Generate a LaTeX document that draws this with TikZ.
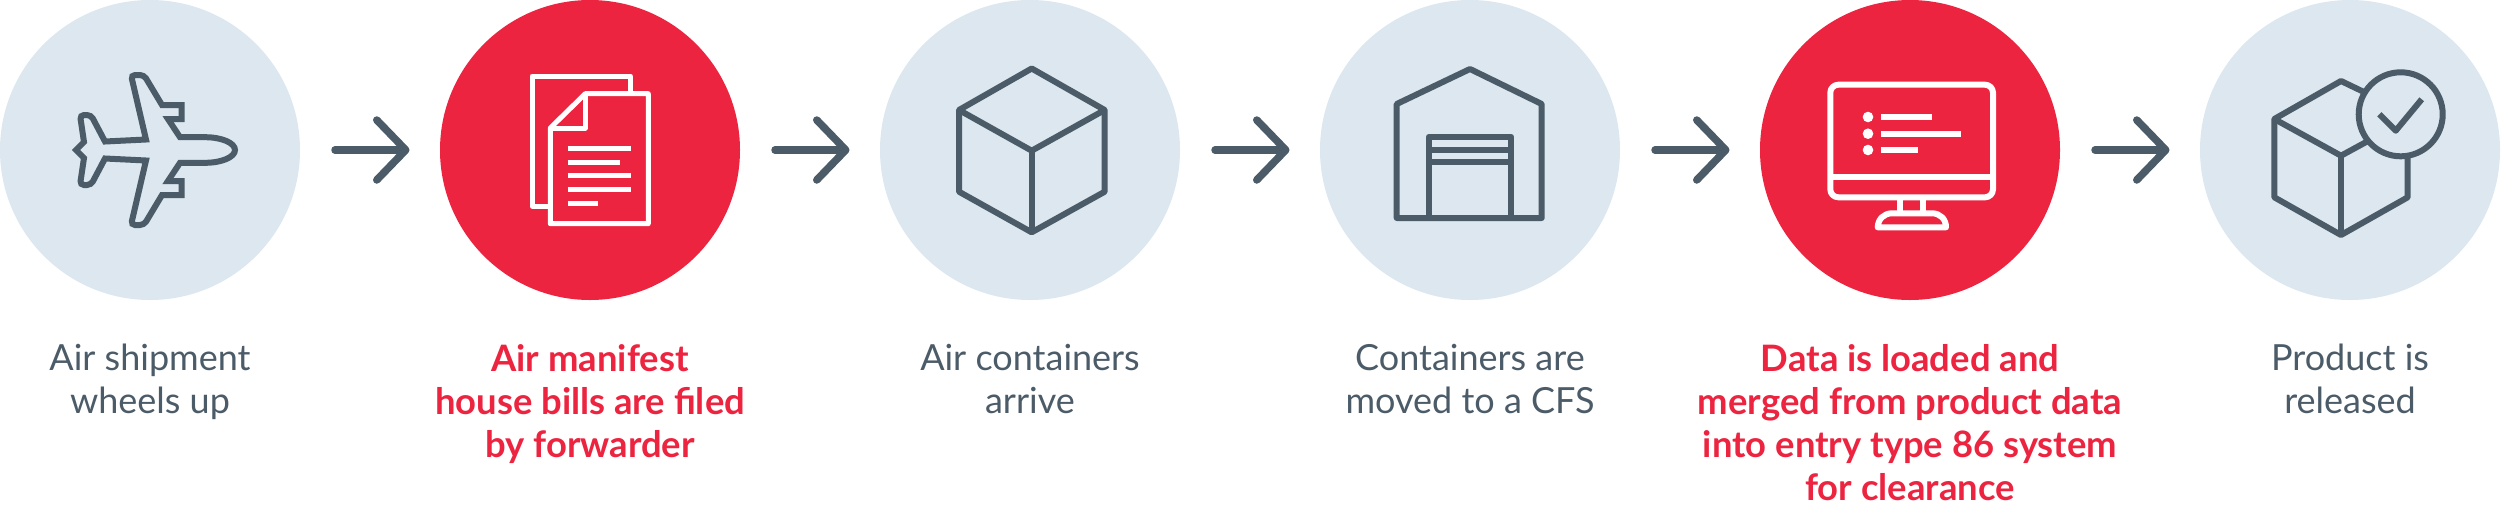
\documentclass[tikz,border=0pt]{standalone}
\usepackage{fontspec}
\setmainfont{Lato}
\usetikzlibrary{positioning,arrows.meta}
\definecolor{slatecol}{HTML}{4B5B68}
\definecolor{palecol}{HTML}{DCE7EF}
\definecolor{redcol}{HTML}{EC2440}
\tikzset{
    stepcircle/.style={circle, minimum size=300pt, inner sep=0pt, outer sep=0pt, fill=palecol},
    redcircle/.style={stepcircle, fill=redcol},
    steparrow/.style={draw=slatecol, line width=7.5pt, line cap=round, shorten <=35pt, shorten >=30.5pt,
        -{Straight Barb[length=29pt, width=60pt, round]}},
    steplabel/.style={below=44pt of #1, inner sep=0pt, align=center, text=slatecol,
        font=\fontsize{36}{43}\selectfont, execute at begin node=\strut},
    redlabel/.style={steplabel=#1, text=redcol, font=\fontsize{36.4}{43}\selectfont\bfseries},
    icon/.style={draw=slatecol, line width=6pt, line join=round},
    whiteicon/.style={draw=white, line width=5pt, line join=round}
}

\begin{document}
\begin{tikzpicture}[x=1pt, y=-1pt]
    \useasboundingbox (0,0) rectangle (2501,507);

    \node[stepcircle] (plane) at (150,150) {};
    \node[redcircle, right=140pt of plane] (papers) {};
    \node[stepcircle, right=140pt of papers] (cube) {};
    \node[stepcircle, right=140pt of cube] (depot) {};
    \node[redcircle, right=140pt of depot] (screen) {};
    \node[stepcircle, right=140pt of screen] (parcel) {};

    \draw[steparrow] (plane) -- (papers);
    \draw[steparrow] (papers) -- (cube);
    \draw[steparrow] (cube) -- (depot);
    \draw[steparrow] (depot) -- (screen);
    \draw[steparrow] (screen) -- (parcel);

    \node[steplabel=plane] (planetext) {Air shipment\\wheels up};
    \node[redlabel=papers] (paperstext) {Air manifest\\house bills are filed\\by forwarder};
    \node[steplabel=cube] (cubetext) {Air containers\\arrive};
    \node[steplabel=depot] (depottext) {Containers are\\moved to a CFS};
    \node[redlabel=screen] (screentext) {Data is loaded and\\merged from product data\\into entry type 86 system\\for clearance};
    \node[steplabel=parcel] (parceltext) {Product is\\released};

    % plane
    \draw[icon, line join=miter] (235,150) .. controls (235,143) and (222,137.2) .. (205,137.2) -- (180,137.2)
        -- (168,119) -- (181.5,119) -- (181.5,105) -- (162,105)
        [rounded corners=4pt] -- (144,75) -- (131,75) [sharp corners] -- (146,139.5) -- (105,141.5)
        [rounded corners=4pt] -- (91,115) -- (80,115) [sharp corners] -- (84,142) -- (76,150)
        -- (84,158) [rounded corners=4pt] -- (80,185) -- (91,185) [sharp corners] -- (105,158.5)
        -- (146,160.5) [rounded corners=4pt] -- (131,225) -- (144,225) [sharp corners] -- (162,195)
        -- (181.5,195) -- (181.5,181) -- (168,181) -- (180,162.8) -- (205,162.8)
        .. controls (222,162.8) and (235,157) .. (235,150) -- cycle;

    % papers
    \draw[whiteicon] (630.3,92) -- (630.3,76) -- (532,76) -- (532,206) -- (548,206);
    \draw[whiteicon] (585.3,93.7) -- (648.3,93.7) -- (648.3,223.7) -- (550.3,223.7) -- (550.3,128) -- cycle;
    \draw[whiteicon] (585.3,93.7) -- (585.3,128) -- (550.3,128);
    \draw[whiteicon] (567.7,148) -- (630.7,148);
    \draw[whiteicon] (567.7,162) -- (620,162);
    \draw[whiteicon] (567.7,175.7) -- (630.7,175.7);
    \draw[whiteicon] (567.7,189.3) -- (630.7,189.3);
    \draw[whiteicon] (567.7,203.3) -- (598,203.3);

    % cube
    \draw[icon] (1031.7,68.5) -- (1104.7,110) -- (1104.7,191.7) -- (1031.7,232.3) -- (959,191.7) -- (959,110) -- cycle;
    \draw[icon] (959,110) -- (1031.7,150.7) -- (1104.7,110);
    \draw[icon] (1031.7,150.7) -- (1031.7,232.3);

    % depot
    \draw[icon] (1470,69) -- (1541.7,104) -- (1541.7,218) -- (1396.7,218) -- (1396.7,104) -- cycle;
    \draw[icon] (1429,218) -- (1429,136.7) -- (1511,136.7) -- (1511,218);
    \draw[icon] (1429,149.7) -- (1511,149.7);
    \draw[icon] (1429,161.7) -- (1511,161.7);

    % screen
    \draw[whiteicon, line width=6pt, rounded corners=8pt] (1830.3,84.7) rectangle (1993,197.3);
    \draw[whiteicon, line width=6pt] (1830.3,177.3) -- (1993,177.3);
    \fill[white] (1868,117) circle (5.3pt);
    \fill[white] (1868,133.7) circle (5.3pt);
    \fill[white] (1868,150) circle (5.3pt);
    \draw[whiteicon, line width=6pt] (1881.3,117) -- (1932,117);
    \draw[whiteicon, line width=6pt] (1881.3,133.7) -- (1960.7,133.7);
    \draw[whiteicon, line width=6pt] (1881.3,150) -- (1917.7,150);
    \draw[whiteicon, line width=6pt] (1900.3,197.3) -- (1900.3,213);
    \draw[whiteicon, line width=6pt] (1923,197.3) -- (1923,213);
    \draw[whiteicon, line width=6pt] (1877.7,227.3) .. controls (1878,219) and (1884,213.3) .. (1892,213.3)
        -- (1932,213.3) .. controls (1940,213.3) and (1946,219) .. (1946,227.3) -- cycle;

    % parcel
    \draw[icon] (2407.7,156) -- (2407.7,197.3) -- (2341,235) -- (2274.3,197.3) -- (2274.3,119) -- (2341,81) -- (2363.3,91.7);
    \draw[icon] (2274.3,119) -- (2341,155.7) -- (2366.7,141.7);
    \draw[icon] (2341,155.7) -- (2341,235);
    \draw[icon] (2400.7,114.3) circle (42pt);
    \draw[icon] (2379.3,114.3) -- (2395.7,130.7) -- (2421.7,99.3);
\end{tikzpicture}
\end{document}
